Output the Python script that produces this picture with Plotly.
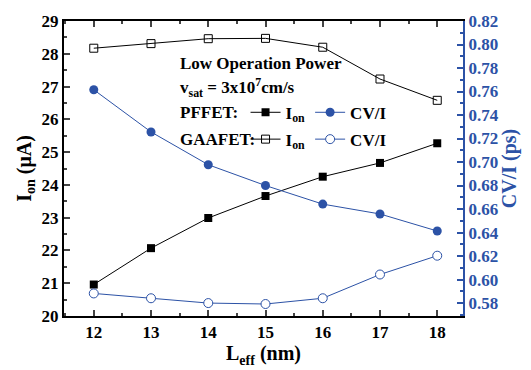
import plotly.graph_objects as go

L_eff = [12, 13, 14, 15, 16, 17, 18]
pf_ion = [20.96, 22.07, 22.99, 23.66, 24.25, 24.67, 25.27]
gaa_ion = [28.17, 28.31, 28.46, 28.47, 28.20, 27.23, 26.58]
pf_cvi = [0.7615, 0.7256, 0.6977, 0.680, 0.6642, 0.6558, 0.6413]
gaa_cvi = [0.5882, 0.5841, 0.5800, 0.5792, 0.5841, 0.6043, 0.6203]

x_ticks = [12, 13, 14, 15, 16, 17, 18]
y_ticks = [20, 21, 22, 23, 24, 25, 26, 27, 28, 29]
y2_ticks = [0.58, 0.60, 0.62, 0.64, 0.66, 0.68, 0.70, 0.72, 0.74, 0.76, 0.78, 0.80, 0.82]

BLUE = "#2C52A6"
FONT = "Liberation Serif"

fig = go.Figure()
fig.add_trace(go.Scatter(x=L_eff, y=pf_ion, mode="lines+markers", name="<b>I<sub>on</sub></b>",
                         line=dict(color="black", width=1),
                         marker=dict(symbol="square", size=8, color="black"), legend="legend"))
fig.add_trace(go.Scatter(x=L_eff, y=pf_cvi, mode="lines+markers", name="<b>CV/I</b>", yaxis="y2",
                         line=dict(color=BLUE, width=1),
                         marker=dict(symbol="circle", size=9, color=BLUE), legend="legend"))
fig.add_trace(go.Scatter(x=L_eff, y=gaa_ion, mode="lines+markers", name="<b>I<sub>on</sub></b>",
                         line=dict(color="black", width=1),
                         marker=dict(symbol="square-open", size=8, color="black", line=dict(width=1)),
                         legend="legend2"))
fig.add_trace(go.Scatter(x=L_eff, y=gaa_cvi, mode="lines+markers", name="<b>CV/I</b>", yaxis="y2",
                         line=dict(color=BLUE, width=1),
                         marker=dict(symbol="circle", size=9, color="white", line=dict(color=BLUE, width=1)),
                         legend="legend2"))

tickfont = dict(family=FONT, size=17, color="black", weight="bold")
fig.update_layout(
    width=531, height=370,
    margin=dict(l=64, r=68, t=16, b=48),
    paper_bgcolor="white", plot_bgcolor="white",
    font=dict(family=FONT, color="black"),
    xaxis=dict(range=[11.48, 18.45], tickvals=x_ticks, ticktext=[f"<b>{v}</b>" for v in x_ticks],
               ticks="inside", ticklen=6, tickwidth=1.5,
               showline=True, linewidth=2, linecolor="black", mirror="ticks", showgrid=False, zeroline=False,
               minor=dict(dtick=0.5, tick0=0, ticks="inside", ticklen=3, tickwidth=1.5, showgrid=False),
               tickfont=tickfont,
               title=dict(text="<b>L<sub>eff</sub> (nm)</b>", font=dict(family=FONT, size=20), standoff=2)),
    yaxis=dict(range=[20, 29], tickvals=y_ticks, ticktext=[f"<b>{v}</b>" for v in y_ticks],
               ticks="inside", ticklen=6, tickwidth=1.5,
               showline=True, linewidth=2, linecolor="black", showgrid=False, zeroline=False,
               minor=dict(dtick=0.5, tick0=0, ticks="inside", ticklen=3, tickwidth=1.5, showgrid=False),
               tickfont=tickfont,
               title=dict(text="<b>I<sub>on</sub> (μA)</b>", font=dict(family=FONT, size=20), standoff=5)),
    yaxis2=dict(range=[0.569, 0.82], tickvals=y2_ticks, ticktext=[f"<b>{v:.2f}</b>" for v in y2_ticks],
                overlaying="y", side="right",
                ticks="inside", ticklen=6, tickwidth=1.5, tickcolor=BLUE,
                showline=True, linewidth=2, linecolor=BLUE, showgrid=False, zeroline=False,
                minor=dict(dtick=0.01, tick0=0, ticks="inside", ticklen=3, tickwidth=1.5, tickcolor=BLUE, showgrid=False),
                tickfont=dict(family=FONT, size=17, color=BLUE, weight="bold"),
                title=dict(text="<b>CV/I (ps)</b>", font=dict(family=FONT, size=20, color=BLUE), standoff=3)),
    legend=dict(orientation="h", x=0.455, y=0.689, xanchor="left", yanchor="middle",
                bgcolor="rgba(0,0,0,0)", font=dict(family=FONT, size=17), itemwidth=30,
                tracegroupgap=0),
    legend2=dict(orientation="h", x=0.455, y=0.598, xanchor="left", yanchor="middle",
                 bgcolor="rgba(0,0,0,0)", font=dict(family=FONT, size=17), itemwidth=30,
                 tracegroupgap=0),
    showlegend=True,
)

ann_font = dict(family=FONT, size=17, color="black")
fig.add_annotation(xref="paper", yref="paper", x=0.285, y=0.855, xanchor="left", yanchor="middle",
                   text="<b>Low Operation Power</b>", showarrow=False, font=ann_font)
fig.add_annotation(xref="paper", yref="paper", x=0.285, y=0.775, xanchor="left", yanchor="middle",
                   text="<b>v<sub>sat</sub> = 3x10<sup>7</sup>cm/s</b>", showarrow=False, font=ann_font)
fig.add_annotation(xref="paper", yref="paper", x=0.285, y=0.689, xanchor="left", yanchor="middle",
                   text="<b>PFFET:</b>", showarrow=False, font=ann_font)
fig.add_annotation(xref="paper", yref="paper", x=0.285, y=0.598, xanchor="left", yanchor="middle",
                   text="<b>GAAFET:</b>", showarrow=False, font=ann_font)

fig.write_html("out.html")
